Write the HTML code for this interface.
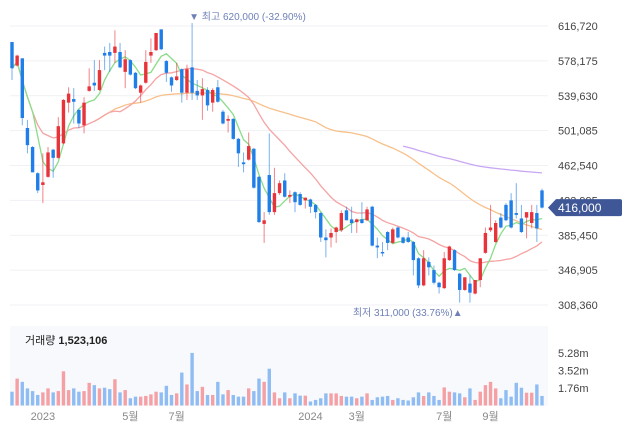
<!DOCTYPE html>
<html><head><meta charset="utf-8">
<style>
body{margin:0;background:#fff;width:626px;height:431px;overflow:hidden;font-family:"Liberation Sans","Noto Sans CJK KR",sans-serif}
svg text{font-family:"Liberation Sans","Noto Sans CJK KR",sans-serif}
</style></head>
<body>
<svg id="chart" width="626" height="431" xmlns="http://www.w3.org/2000/svg">
<rect x="10" y="326" width="538" height="80" fill="#f8f9fc"/>
<g id="grid"></g>
<g id="vol"></g>
<g id="ma"></g>
<g id="candles"></g>
<g id="axis"></g>
</svg>
<script>
const opens =[599,573,581,504,483,454,441,450,480,471,487,532,536,524,507,545,554,546,587,588,587,588,566,579,565,543,554,584,590,613,578,560,557,569,543,571,545,540,546,532,549,522,512,514,492,466,469,481,450,398,452,411,432,446,428,433,431,424,425,419,410,383,383,389,391,413,403,400,403,402,417,374,367,389,377,394,383,383,378,360,330,356,347,333,327,358,369,343,325,332,321,336,366,391,378,405,419,424,410,404,405,399,410,435];
const highs =[599,585,581,513,484,455,476,483,481,516,536,549,548,525,538,570,579,579,594,598,612,598,590,580,566,552,590,603,609,613,579,561,576,570,574,620,557,559,549,548,557,524,518,515,493,477,499,482,451,411,498,460,446,454,435,434,433,427,426,420,411,392,393,395,413,417,417,404,422,417,418,383,378,390,394,395,384,389,379,361,369,361,352,334,367,374,370,344,339,341,336,360,394,419,402,410,421,432,443,419,411,419,419,437];
const lows  =[557,572,507,476,455,432,421,449,449,470,486,521,509,504,498,544,545,545,568,566,576,570,548,562,547,532,553,576,589,590,555,544,556,532,535,535,535,513,523,522,532,508,499,491,461,455,468,437,399,377,408,408,430,427,421,411,418,415,410,404,378,361,372,377,389,402,388,388,398,401,373,360,362,369,376,382,376,377,341,327,329,341,331,321,326,357,346,311,324,311,320,328,365,389,377,393,401,393,404,388,382,393,378,415];
const closes=[570,584,515,485,455,435,444,477,471,506,535,542,533,509,532,550,551,568,584,584,594,571,580,563,548,551,577,588,609,591,565,551,561,543,569,543,540,547,529,546,533,509,514,492,476,464,484,438,400,402,411,432,443,428,430,422,419,427,417,411,383,380,388,394,410,402,399,403,399,414,374,372,366,377,392,383,377,378,358,330,360,350,333,328,360,373,347,325,339,322,336,360,388,394,399,394,402,394,408,389,411,411,393,416];
const volumes=[1.39,2.71,2.38,1.72,1.45,1.06,1.32,1.72,1.32,1.45,3.44,1.55,1.72,1.39,1.45,2.28,2.05,1.72,1.79,1.65,2.64,1.32,1.55,0.73,0.89,0.89,0.96,1.12,1.39,1.32,1.98,1.06,1.22,3.31,2.12,5.29,1.45,1.88,1.06,1.06,2.38,1.12,1.55,1.06,0.89,0.89,1.72,1.45,2.71,2.38,3.70,1.32,0.73,1.32,0.73,1.22,0.99,0.99,0.40,0.56,0.73,1.22,1.22,1.22,0.96,0.89,0.89,0.73,0.89,1.22,0.56,0.83,0.89,0.96,0.56,0.73,0.56,0.50,0.83,1.32,0.96,1.32,0.96,0.56,1.82,1.39,1.32,1.22,0.83,1.72,0.56,1.39,2.05,2.38,1.72,0.73,1.55,0.89,2.28,1.79,1.29,1.29,2.12,0.96];
const priceTicks=[616720,578175,539630,501085,462540,423995,385450,346905,308360];
const volTicks=[5.28,3.52,1.76];
const volTickLabels=["5.28m","3.52m","1.76m"];
const dateLabels=["2023","5월","7월","2024","3월","7월","9월"];
const dateIdx=[6,23,32,58,67,84,93];

const NS="http://www.w3.org/2000/svg";
const N=closes.length;
const x0=12, x1=542;
function xs(i){return x0+i*(x1-x0)/(N-1);}
function yp(v){return 26+(616720-v)*34.875/38545;}
function yk(k){return yp(k*1000);}
function yv(m){return 405.5-m*9.94;}
function el(tag,attrs,parent,txt){const e=document.createElementNS(NS,tag);for(const k in attrs)e.setAttribute(k,attrs[k]);if(txt!==undefined)e.textContent=txt;parent.appendChild(e);return e;}
const grid=document.getElementById('grid'),axis=document.getElementById('axis');
priceTicks.forEach((t,i)=>{
  const g=el('line',{x1:10,x2:548,y1:yp(t),y2:yp(t),stroke:'#f0f1f4','stroke-width':1},grid);
  
  
  const tx=el('text',{x:558,y:yp(t)+4,'font-size':11,fill:'#444'},axis,t.toLocaleString('en-US'));
  
  
});
volTicks.forEach((t,i)=>{
  const tx=el('text',{x:558,y:yv(t)+4,'font-size':11,fill:'#444'},axis,volTickLabels[i]);
  
  
});
dateLabels.forEach((d,i)=>{
  const tx=el('text',{x:xs(dateIdx[i]),y:420,'font-size':11,fill:'#888','text-anchor':'middle'},axis,d);
  
  
});
const vg=document.getElementById('vol');
volumes.forEach((v,i)=>{
  const up=closes[i]>=opens[i];
  const r=el('rect',{x:xs(i)-1.7,y:yv(v),width:3.4,height:405.5-yv(v),fill:up?'#f4a0a4':'#8fbdf3'},vg);
  
  
});
function ma(w,start){const pts=[];for(let i=start;i<N;i++){const s=Math.max(0,i-w+1);let sum=0;for(let j=s;j<=i;j++)sum+=closes[j];pts.push(xs(i).toFixed(1)+','+yk(sum/(i-s+1)).toFixed(1));}return pts.join(' ');}
const mg=document.getElementById('ma');
[[120,76,'#c9a6f2','ma120-line'],[60,16,'#f8c08a','ma60-line'],[20,0,'#f5a3a3','ma20-line'],[5,0,'#8adc8a','ma5-line']].forEach(m=>{
  const p=el('polyline',{points:ma(m[0],m[1]),fill:'none',stroke:m[2],'stroke-width':1.3},mg);
  
  
});
const cg=document.getElementById('candles');
for(let i=0;i<N;i++){
  const up=closes[i]>=opens[i];const c=up?'#e8333b':'#1f7ee8';
  const w=el('line',{x1:xs(i),x2:xs(i),y1:yk(highs[i]),y2:yk(lows[i]),stroke:c,'stroke-width':1,opacity:0.6},cg);
  
  
  const t=Math.min(yk(opens[i]),yk(closes[i])),h=Math.max(1.5,Math.abs(yk(opens[i])-yk(closes[i])));
  const b=el('rect',{x:xs(i)-1.7,y:t,width:3.4,height:h,fill:c},cg);
  
  
}
let hi=0,lo=0;for(let i=0;i<N;i++){if(highs[i]>highs[hi])hi=i;if(lows[i]<lows[lo])lo=i;}
const a1=el('text',{x:xs(hi)-3,y:20,'font-size':10,fill:'#6f80b8'},axis,'▼ 최고 '+(highs[hi]*1000).toLocaleString('en-US')+' (-32.90%)');


const a2=el('text',{x:xs(lo)+3,y:316,'font-size':10,fill:'#6f80b8','text-anchor':'end'},axis,'최저 '+(lows[lo]*1000).toLocaleString('en-US')+' (33.76%)▲');


const ly=yk(closes[N-1]);
const bd=el('path',{d:`M548 ${ly} L556 ${ly-8.5} L620 ${ly-8.5} Q622 ${ly-8.5} 622 ${ly-6.5} L622 ${ly+6.5} Q622 ${ly+8.5} 620 ${ly+8.5} L556 ${ly+8.5} Z`,fill:'#3f5797'},axis);


const bt=el('text',{x:558,y:ly+4.5,'font-size':12,fill:'#fff'},axis,(closes[N-1]*1000).toLocaleString('en-US'));


const vt=el('text',{x:25,y:344,'font-size':11,fill:'#222'},axis);


vt.innerHTML='거래량 <tspan font-weight="bold">1,523,106</tspan>';
</script>
</body></html>
